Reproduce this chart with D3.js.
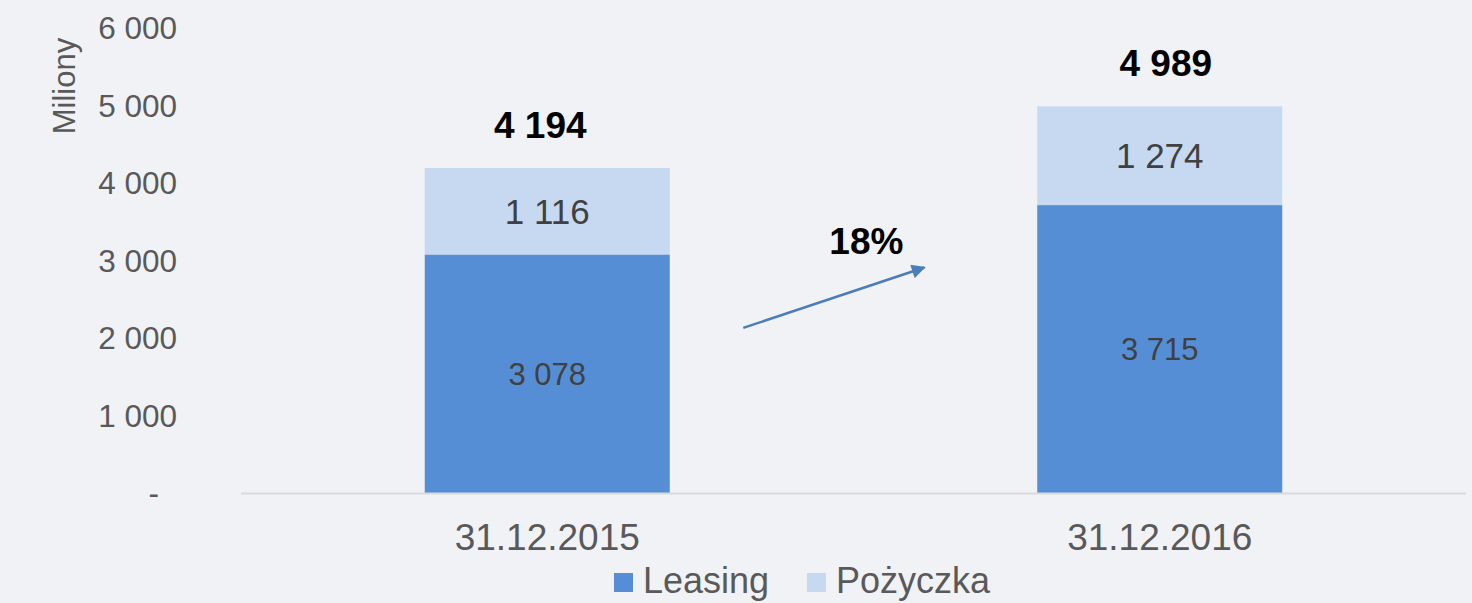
<!DOCTYPE html>
<html><head><meta charset="utf-8">
<script src="https://cdn.jsdelivr.net/npm/d3@7"></script>
<style>
html,body{margin:0;padding:0;background:#f1f2f6;}
svg{display:block;font-family:"Liberation Sans",Arial,sans-serif;}
</style></head>
<body>
<svg id="chart" width="1472" height="603"></svg>
<script>
const categories = ["31.12.2015", "31.12.2016"];
const leasing = [3078, 3715];
const pozyczka = [1116, 1274];
const totals = [4194, 4989];
const seriesNames = ["Leasing", "Pożyczka"];
const seriesColors = ["#558ed5", "#c6d9f1"];
const yTicks = [0, 1000, 2000, 3000, 4000, 5000, 6000];
const yTickLabels = ["-", "1 000", "2 000", "3 000", "4 000", "5 000", "6 000"];
const growthLabel = "18%";
const yTitle = "Miliony";

const fmt = v => d3.format(",")(v).replace(/,/g, " ");

const svg = d3.select("#chart");
svg.append("rect").attr("width", 1472).attr("height", 603).attr("fill", "#f1f2f6");

const x = d3.scaleBand().domain(categories).range([241, 1466]).paddingInner(0.6).paddingOuter(0.3);
const y = d3.scaleLinear().domain([0, 6000]).range([493, 28]);

// y tick labels
svg.append("g").selectAll("text").data(yTicks).join("text")
  .attr("x", (d, i) => i === 0 ? 159 : 177)
  .attr("y", d => y(d))
  .attr("dy", "0.36em")
  .attr("text-anchor", "end")
  .attr("font-size", 31.5)
  .attr("fill", "#595959")
  .text((d, i) => yTickLabels[i]);

// y title
svg.append("text")
  .attr("transform", "translate(75,86) rotate(-90)")
  .attr("text-anchor", "middle")
  .attr("font-size", 31)
  .attr("fill", "#595959")
  .text(yTitle);

// stacked bars
const stackData = categories.map((c, i) => ({cat: c, Leasing: leasing[i], "Pożyczka": pozyczka[i]}));
const stacked = d3.stack().keys(seriesNames)(stackData);
const color = d3.scaleOrdinal().domain(seriesNames).range(seriesColors);

svg.append("g").selectAll("g").data(stacked).join("g")
  .attr("fill", d => color(d.key))
  .selectAll("rect").data(d => d).join("rect")
  .attr("x", d => x(d.data.cat))
  .attr("width", x.bandwidth())
  .attr("y", d => y(d[1]))
  .attr("height", d => y(d[0]) - y(d[1]));

// baseline
svg.append("line").attr("x1", 241).attr("x2", 1466)
  .attr("y1", y(0) + 0.5).attr("y2", y(0) + 0.5)
  .attr("stroke", "#d9d9d9").attr("stroke-width", 2);

// segment labels
stacked.forEach((s, si) => {
  svg.append("g").selectAll("text").data(s).join("text")
    .attr("x", d => x(d.data.cat) + x.bandwidth() / 2)
    .attr("y", d => (y(d[0]) + y(d[1])) / 2)
    .attr("dy", "0.36em")
    .attr("text-anchor", "middle")
    .attr("font-size", si === 0 ? 31 : 35)
    .attr("fill", "#404040")
    .text(d => fmt(d.data[s.key]));
});

// totals
const totalNudge = [-7, 6];
svg.append("g").selectAll("text").data(totals).join("text")
  .attr("x", (d, i) => x(categories[i]) + x.bandwidth() / 2 + totalNudge[i])
  .attr("y", d => y(d) - 30)
  .attr("text-anchor", "middle")
  .attr("font-size", 37)
  .attr("font-weight", "bold")
  .attr("fill", "#000")
  .text(d => fmt(d));

// category labels
svg.append("g").selectAll("text").data(categories).join("text")
  .attr("x", d => x(d) + x.bandwidth() / 2)
  .attr("y", 550)
  .attr("text-anchor", "middle")
  .attr("font-size", 37)
  .attr("fill", "#595959")
  .text(d => d);

// growth arrow
const gapL = x(categories[0]) + x.bandwidth();
const gapR = x(categories[1]);
const gw = gapR - gapL;
const ax1 = gapL + gw * 0.2, ay1 = y(2130);
const ax2 = gapL + gw * 0.693, ay2 = y(2910);
svg.append("defs").append("marker")
  .attr("id", "ah").attr("viewBox", "0 0 10 10").attr("refX", 9).attr("refY", 5)
  .attr("markerWidth", 6.4).attr("markerHeight", 5.6).attr("markerUnits", "strokeWidth")
  .attr("orient", "auto")
  .append("path").attr("d", "M0,0 L10,5 L0,10 Z").attr("fill", "#4a7ebb");
svg.append("line").attr("x1", ax1).attr("y1", ay1).attr("x2", ax2).attr("y2", ay2)
  .attr("stroke", "#4a7ebb").attr("stroke-width", 2.5).attr("marker-end", "url(#ah)");
svg.append("text")
  .attr("x", gapL + gw * 0.535).attr("y", y(3090))
  .attr("text-anchor", "middle").attr("font-size", 37).attr("font-weight", "bold")
  .attr("fill", "#000").text(growthLabel);

// legend
const lg = svg.append("g");
const legendX = [614, 807];
seriesNames.forEach((n, i) => {
  lg.append("rect").attr("x", legendX[i]).attr("y", 573).attr("width", 19).attr("height", 19).attr("fill", seriesColors[i]);
  lg.append("text").attr("x", legendX[i] + 29).attr("y", 593).attr("font-size", 36).attr("fill", "#595959").text(n);
});
</script>
</body></html>
